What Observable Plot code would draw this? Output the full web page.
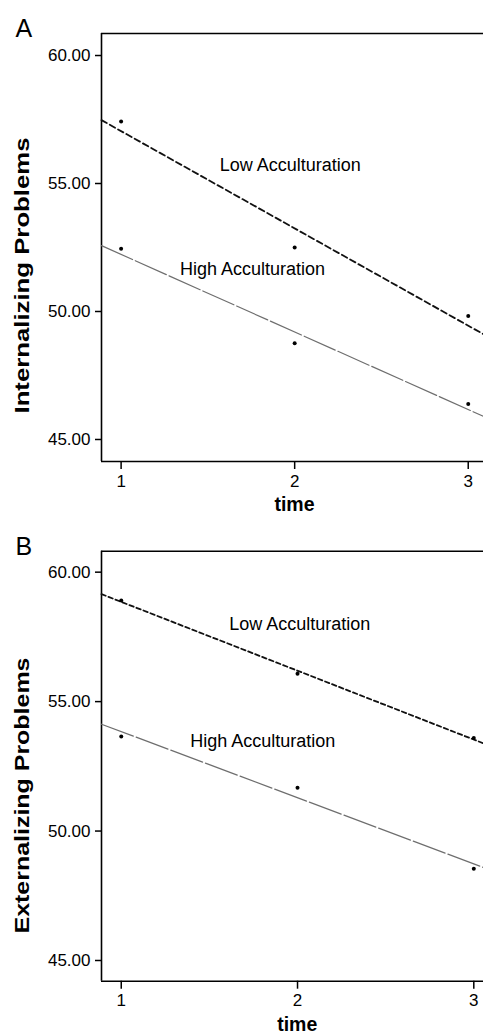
<!DOCTYPE html>
<html><head><meta charset="utf-8">
<script src="https://cdn.jsdelivr.net/npm/d3@7"></script>
<script src="https://cdn.jsdelivr.net/npm/@observablehq/plot@0.6"></script>
<style>
body{margin:0;background:#fff;}
#chart{width:483px;}
#chart svg{display:block;}
</style>
</head><body><div id="chart"></div>
<script>
// ---- data ----
const times = [1, 2, 3];
const internalizingLow = [57.42, 52.50, 49.82];
const internalizingHigh = [52.45, 48.76, 46.39];
const externalizingLow = [58.91, 56.08, 53.59];
const externalizingHigh = [53.65, 51.67, 48.54];
const groupNames = ["Low Acculturation", "High Acculturation"];
const yTicks = [45, 50, 55, 60];
const xTicks = [1, 2, 3];
const panelLetters = ["A", "B"];
const yTitles = ["Internalizing Problems", "Externalizing Problems"];
const xTitle = "time";

function fit(xs, ys) {
  const mx = d3.mean(xs), my = d3.mean(ys);
  const b = d3.sum(xs, (x, i) => (x - mx) * (ys[i] - my)) / d3.sum(xs, x => (x - mx) ** 2);
  return {a: my - b * mx, b};
}

const FONT = "'Liberation Sans', Arial, Helvetica, sans-serif";

const panels = [
  {letter: panelLetters[0], yTitle: yTitles[0], low: internalizingLow, high: internalizingHigh,
   xDomain: [0.887, 3.088], yDomain: [44.14, 60.86], marginTop: 33, marginBottom: 56,
   lowLabel: {x: 1.975, y: 55.73}, highLabel: {x: 1.757, y: 51.67},
   titleDy: 28, timeDy: 43, timeDx: 2, letterDy: 3.7, lowDash: "6,3.5"},
  {letter: panelLetters[1], yTitle: yTitles[1], low: externalizingLow, high: externalizingHigh,
   xDomain: [0.888, 3.055], yDomain: [44.2, 60.81], marginTop: 33.7, marginBottom: 53.3,
   lowLabel: {x: 2.013, y: 57.98}, highLabel: {x: 1.803, y: 53.46},
   titleDy: 29.3, timeDy: 43.3, timeDx: 4.7, letterDy: 3.6, lowDash: "4.5,3"}
];

const container = document.getElementById("chart");

for (const p of panels) {
  const series = [
    {name: groupNames[0], values: p.low},
    {name: groupNames[1], values: p.high}
  ];
  const points = series.flatMap(s => times.map((t, i) => ({t, v: s.values[i], g: s.name})));
  const lines = series.map(s => {
    const f = fit(times, s.values);
    return p.xDomain.map(t => ({t, v: f.a + f.b * t, g: s.name}));
  });

  const plot = Plot.plot({
    width: 483,
    height: 517,
    marginLeft: 101,
    marginRight: 0,
    marginTop: p.marginTop,
    marginBottom: p.marginBottom,
    style: {fontSize: "17px", fontFamily: FONT, color: "#000", background: "#fff", overflow: "visible"},
    x: {domain: p.xDomain, ticks: xTicks, tickFormat: d3.format("d"), tickSize: 8, tickPadding: 5, label: null},
    y: {domain: p.yDomain, ticks: yTicks, tickFormat: d3.format(".2f"), tickSize: 6, tickPadding: 5, label: null},
    marks: [
      Plot.ruleY([p.yDomain[1]], {stroke: "#000", strokeWidth: 1.6}),
      Plot.ruleY([p.yDomain[0]], {stroke: "#000", strokeWidth: 1.6}),
      Plot.ruleX([p.xDomain[0]], {stroke: "#000", strokeWidth: 1.6}),
      Plot.line(lines[0], {x: "t", y: "v", stroke: "#111", strokeWidth: 1.8, strokeDasharray: p.lowDash}),
      Plot.line(lines[1], {x: "t", y: "v", stroke: "#6e6e6e", strokeWidth: 1.2, strokeDasharray: "34,3"}),
      Plot.dot(points, {x: "t", y: "v", r: 2, fill: "#000", stroke: "none"}),
      Plot.text([groupNames[0]], {x: () => p.lowLabel.x, y: () => p.lowLabel.y, text: d => d, fontSize: 18, fill: "#000", textAnchor: "middle", lineAnchor: "middle"}),
      Plot.text([groupNames[1]], {x: () => p.highLabel.x, y: () => p.highLabel.y, text: d => d, fontSize: 18, fill: "#000", textAnchor: "middle", lineAnchor: "middle"}),
      Plot.text([p.yTitle], {frameAnchor: "left", text: d => d, rotate: -90, dx: -79.7, dy: p.titleDy, fontSize: 21, fontWeight: "bold", fill: "#000", textAnchor: "middle", lineAnchor: "middle"}),
      Plot.text([xTitle], {frameAnchor: "bottom", text: d => d, dx: p.timeDx, dy: p.timeDy, fontSize: 19.5, fontWeight: "bold", fill: "#000", textAnchor: "middle", lineAnchor: "middle"}),
      Plot.text([p.letter], {frameAnchor: "top-left", text: d => d, dx: -86, dy: p.letterDy, fontSize: 25, fill: "#000", textAnchor: "start", lineAnchor: "bottom"})
    ]
  });

  d3.select(plot).selectAll("text").filter(function() { return this.textContent === p.yTitle; })
    .attr("textLength", 276).attr("lengthAdjust", "spacingAndGlyphs");
  d3.select(plot).selectAll("g[aria-label='x-axis tick'] path, g[aria-label='y-axis tick'] path")
    .attr("stroke-width", 1.5);
  container.appendChild(plot);
}
</script>
</body></html>
